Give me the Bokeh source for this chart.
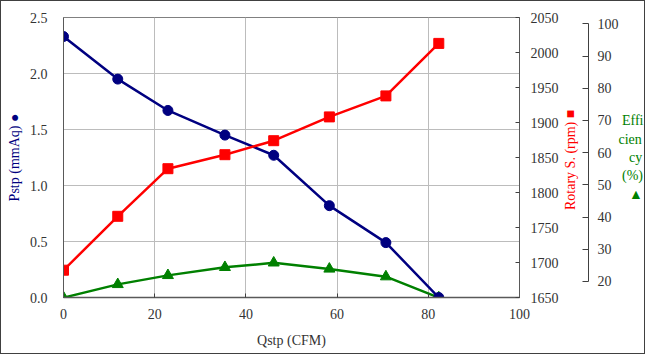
import math
from bokeh.plotting import figure
from bokeh.models import (Range1d, LinearAxis, SingleIntervalTicker, FixedTicker,
                          NumeralTickFormatter, ColumnDataSource)
from bokeh.embed import file_html
from bokeh.resources import INLINE

# ---- data ----
qstp = [0.0, 11.9, 22.9, 35.4, 46.1, 58.3, 70.7, 82.3]          # CFM
pstp = [2.33, 1.95, 1.67, 1.45, 1.27, 0.82, 0.49, 0.0]           # mmAq
rotary = [1689, 1766, 1834, 1854, 1874, 1908, 1938, 2013]        # rpm
efficiency = [15.0, 19.1, 21.9, 24.4, 25.8, 23.9, 21.5, 15.0]    # %

NB = "\u00a0"
x_label = "Qstp (CFM)"
pstp_label = "Pstp (mmAq) \u25CF"
rpm_label = "Rotary S. (rpm) \u25A0"
eff_label = "\n".join([NB + "Effi", "cien", NB * 3 + "cy", NB + "(%)",
                       NB * 3 + "\u25B2"])

FONT = "Liberation Serif"
TXT = "#333333"
NAVY = "#000080"
RED = "#FF0000"
GREEN = "#008000"

W, H = 645, 354
FL, FT, FW, FH = 62, 16, 457, 280

p = figure(width=W, height=H, output_backend="svg", toolbar_location=None,
           x_range=Range1d(0, 100), y_range=Range1d(0, 2.5),
           min_border_left=FL, min_border_top=FT,
           min_border_right=W - FL - FW, min_border_bottom=H - FT - FH)
p.styles = {"border": "1px solid #404040"}
p.background_fill_color = "white"
p.border_fill_color = "white"
p.outline_line_color = "#808080"
p.outline_line_width = 1

p.extra_y_ranges = {"rpm": Range1d(1650, 2050), "eff": Range1d(15.03, 101.96)}

# grid
p.xgrid.ticker = SingleIntervalTicker(interval=20)
p.ygrid.ticker = SingleIntervalTicker(interval=0.5)
for g in (p.xgrid, p.ygrid):
    g.grid_line_color = "#bcbcbc"
    g.grid_line_width = 1

def style_axis(ax):
    ax.major_label_text_font = FONT
    ax.major_label_text_font_size = "14px"
    ax.major_label_text_color = TXT
    ax.axis_line_color = "#595959"
    ax.major_tick_line_color = "#404040"
    ax.minor_tick_line_color = None
    ax.axis_label_text_font = FONT
    ax.axis_label_text_font_size = "14px"
    ax.axis_label_text_font_style = "normal"

# bottom axis
xa = p.xaxis[0]
xa.ticker = SingleIntervalTicker(interval=20, num_minor_ticks=0)
style_axis(xa)
xa.major_tick_in = 4
xa.major_tick_out = 0
xa.major_label_standoff = 11
xa.axis_line_width = 1.5
xa.axis_label = x_label
xa.axis_label_text_color = TXT
xa.axis_label_standoff = 11

# left axis
ya = p.yaxis[0]
ya.ticker = SingleIntervalTicker(interval=0.5, num_minor_ticks=0)
ya.formatter = NumeralTickFormatter(format="0.0")
style_axis(ya)
ya.major_tick_in = 0
ya.major_tick_out = 0
ya.major_label_standoff = 16
ya.axis_label = pstp_label
ya.axis_label_text_color = NAVY
ya.axis_label_standoff = 5

# rpm axis
ra = LinearAxis(y_range_name="rpm",
                ticker=SingleIntervalTicker(interval=50, num_minor_ticks=0))
style_axis(ra)
ra.major_tick_in = 4
ra.major_tick_out = 0
ra.major_label_standoff = 11
ra.axis_label_text_color = RED
ra.axis_label_orientation = math.pi / 2
ra.axis_label_standoff = 9
if "axis_label_align" in ra.properties():
    ra.axis_label_align = "start"
    ra.axis_label = NB * 25 + rpm_label
else:
    ra.axis_label = rpm_label
p.add_layout(ra, "right")

# spacer between the two right axes
sp = LinearAxis(y_range_name="rpm", ticker=FixedTicker(ticks=[1850]),
                major_label_overrides={1850: " "})
style_axis(sp)
sp.axis_line_color = None
sp.major_tick_line_color = None
sp.major_tick_in = 0
sp.major_tick_out = 0
sp.major_label_standoff = 2
sp.major_label_text_alpha = 0
p.add_layout(sp, "right")

# efficiency axis
ea = LinearAxis(y_range_name="eff", bounds=(20, 100),
                ticker=SingleIntervalTicker(interval=10, num_minor_ticks=0))
style_axis(ea)
ea.major_tick_in = 6
ea.major_tick_out = 0
ea.major_label_standoff = 9
ea.axis_line_color = "#404040"
ea.axis_label = eff_label
ea.axis_label_text_color = GREEN
ea.axis_label_orientation = "horizontal"
ea.axis_label_text_line_height = 1.22
ea.axis_label_standoff = -3
p.add_layout(ea, "right")

src = ColumnDataSource(dict(q=qstp, p=pstp, r=rotary, e=efficiency))

p.line("q", "e", source=src, y_range_name="eff", color=GREEN, line_width=2.5)
p.scatter("q", "e", source=src, y_range_name="eff", marker="triangle",
          size=11, color=GREEN)
p.line("q", "p", source=src, color=NAVY, line_width=2.5)
p.scatter("q", "p", source=src, marker="circle", size=10, color=NAVY)
p.line("q", "r", source=src, y_range_name="rpm", color=RED, line_width=2.5)
p.scatter("q", "r", source=src, y_range_name="rpm", marker="square",
          size=10, color=RED)

open("out.html", "w").write(file_html(p, INLINE))
